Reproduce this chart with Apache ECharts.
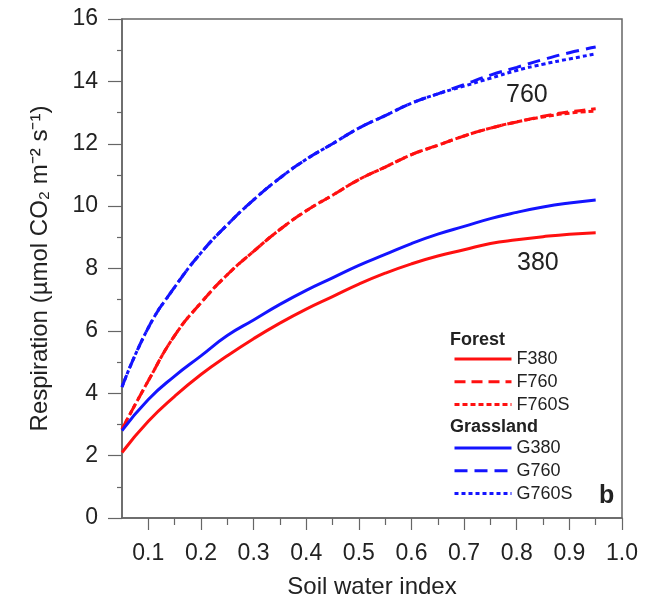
<!DOCTYPE html>
<html><head><meta charset="utf-8">
<script src="https://cdn.jsdelivr.net/npm/echarts@6/dist/echarts.min.js"></script>
<style>html,body{margin:0;padding:0;background:#fff}#c{width:647px;height:607px}</style>
</head><body><div id="c"></div>
<script>
const soilWater = [0.05,0.1,0.15,0.2,0.25,0.3,0.35,0.4,0.45,0.5,0.55,0.6,0.65,0.7,0.75,0.8,0.85,0.9,0.95];
const F380  = [2.1,3.1,3.9,4.6,5.2,5.75,6.25,6.7,7.1,7.5,7.85,8.15,8.4,8.6,8.8,8.92,9.02,9.1,9.15];
const F760  = [2.85,4.4,5.85,6.9,7.8,8.55,9.25,9.85,10.35,10.85,11.25,11.65,11.95,12.25,12.5,12.7,12.88,13.02,13.12];
const F760S = [2.85,4.4,5.85,6.9,7.8,8.55,9.25,9.85,10.35,10.85,11.25,11.65,11.95,12.25,12.5,12.7,12.86,12.98,13.05];
const G380  = [2.8,3.8,4.55,5.2,5.85,6.35,6.85,7.3,7.7,8.1,8.45,8.8,9.1,9.35,9.6,9.8,9.97,10.1,10.2];
const G760  = [4.2,6.1,7.4,8.5,9.4,10.2,10.9,11.5,12.0,12.5,12.9,13.3,13.6,13.9,14.2,14.45,14.7,14.92,15.1];
const G760S = [4.2,6.1,7.4,8.5,9.4,10.2,10.9,11.5,12.0,12.5,12.9,13.3,13.6,13.85,14.1,14.35,14.55,14.72,14.88];
const xMajorTicks = [0.1,0.2,0.3,0.4,0.5,0.6,0.7,0.8,0.9,1.0];
const xMinorTicks = [0.15,0.25,0.35,0.45,0.55,0.65,0.75,0.85,0.95];
const yTicks = [0,2,4,6,8,10,12,14,16];

const pair = arr => soilWater.map((x,i)=>[x,arr[i]]);
const FONT = 'Liberation Sans, Arial, sans-serif';
const RED = '#ff1010', BLUE = '#1414ff', AX = '#666', TXT = '#222';
function line(name, data, color, type){
  return {name, type:'line', data:pair(data), showSymbol:false, symbol:'none', smooth:0.5,
    lineStyle:{color, width:3, type}, itemStyle:{color}, z: type==='solid'?3:2};
}
const legendCommon = {orient:'vertical', left:453, padding:0, itemWidth:57, itemHeight:18, itemGap:4.8,
  itemStyle:{color:'transparent', borderColor:'transparent', borderWidth:0, opacity:0},
  lineStyle:{width:3},
  textStyle:{fontFamily:FONT, fontSize:18, color:TXT}};
const chart = echarts.init(document.getElementById('c'), null, {renderer:'canvas'});
chart.setOption({
  backgroundColor:'#fff',
  animation:false,
  grid:{left:122, right:25, top:19, bottom:89, show:true, borderColor:AX, borderWidth:1.5},
  xAxis:[
    {type:'value', min:0.05, max:1.0,
      name:'Soil water index', nameLocation:'middle', nameGap:57,
      nameTextStyle:{fontFamily:FONT, fontSize:24, color:TXT},
      axisLine:{lineStyle:{color:AX, width:1.5}},
      axisTick:{length:12, customValues:xMajorTicks, lineStyle:{color:AX, width:1.2}},
      axisLabel:{fontFamily:FONT, fontSize:23, color:TXT, margin:24, customValues:xMajorTicks,
        formatter:v=>v.toFixed(1)},
      splitLine:{show:false}},
    {type:'value', min:0.05, max:1.0, position:'bottom', gridIndex:0,
      axisLine:{show:false},
      axisTick:{length:7, customValues:xMinorTicks, lineStyle:{color:AX, width:1.2}},
      axisLabel:{show:false, customValues:xMinorTicks}, splitLine:{show:false}}
  ],
  yAxis:{type:'value', min:yTicks[0], max:yTicks[yTicks.length-1], interval:2,
    name:'Respiration (µmol CO₂ m⁻² s⁻¹)', nameLocation:'middle', nameGap:70,
    nameTextStyle:{fontFamily:FONT, fontSize:24, color:TXT},
    axisLine:{lineStyle:{color:AX, width:1.5}},
    axisTick:{length:14, lineStyle:{color:AX, width:1.2}},
    minorTick:{show:true, splitNumber:2, length:5, lineStyle:{color:AX, width:1.2}},
    axisLabel:{fontFamily:FONT, fontSize:23, color:TXT, margin:24},
    splitLine:{show:false}},
  legend:[
    Object.assign({data:['F380','F760','F760S'], top:350}, legendCommon),
    Object.assign({data:['G380','G760','G760S'], top:439}, legendCommon)
  ],
  graphic:[
    {type:'text', style:{x:450, y:340, text:'Forest', font:'bold 18px '+FONT, fill:TXT, verticalAlign:'middle'}},
    {type:'text', style:{x:450, y:427, text:'Grassland', font:'bold 18px '+FONT, fill:TXT, verticalAlign:'middle'}},
    {type:'text', style:{x:599, y:496, text:'b', font:'bold 25px '+FONT, fill:TXT, verticalAlign:'middle'}},
    {type:'text', style:{x:506, y:95, text:'760', font:'25px '+FONT, fill:TXT, verticalAlign:'middle'}},
    {type:'text', style:{x:517, y:263, text:'380', font:'25px '+FONT, fill:TXT, verticalAlign:'middle'}}
  ],
  series:[
    line('F380', F380, RED, 'solid'),
    line('F760', F760, RED, [11,6]),
    line('F760S', F760S, RED, [5,3]),
    line('G380', G380, BLUE, 'solid'),
    line('G760', G760, BLUE, [13,7]),
    line('G760S', G760S, BLUE, [4,3])
  ]
});
</script></body></html>
